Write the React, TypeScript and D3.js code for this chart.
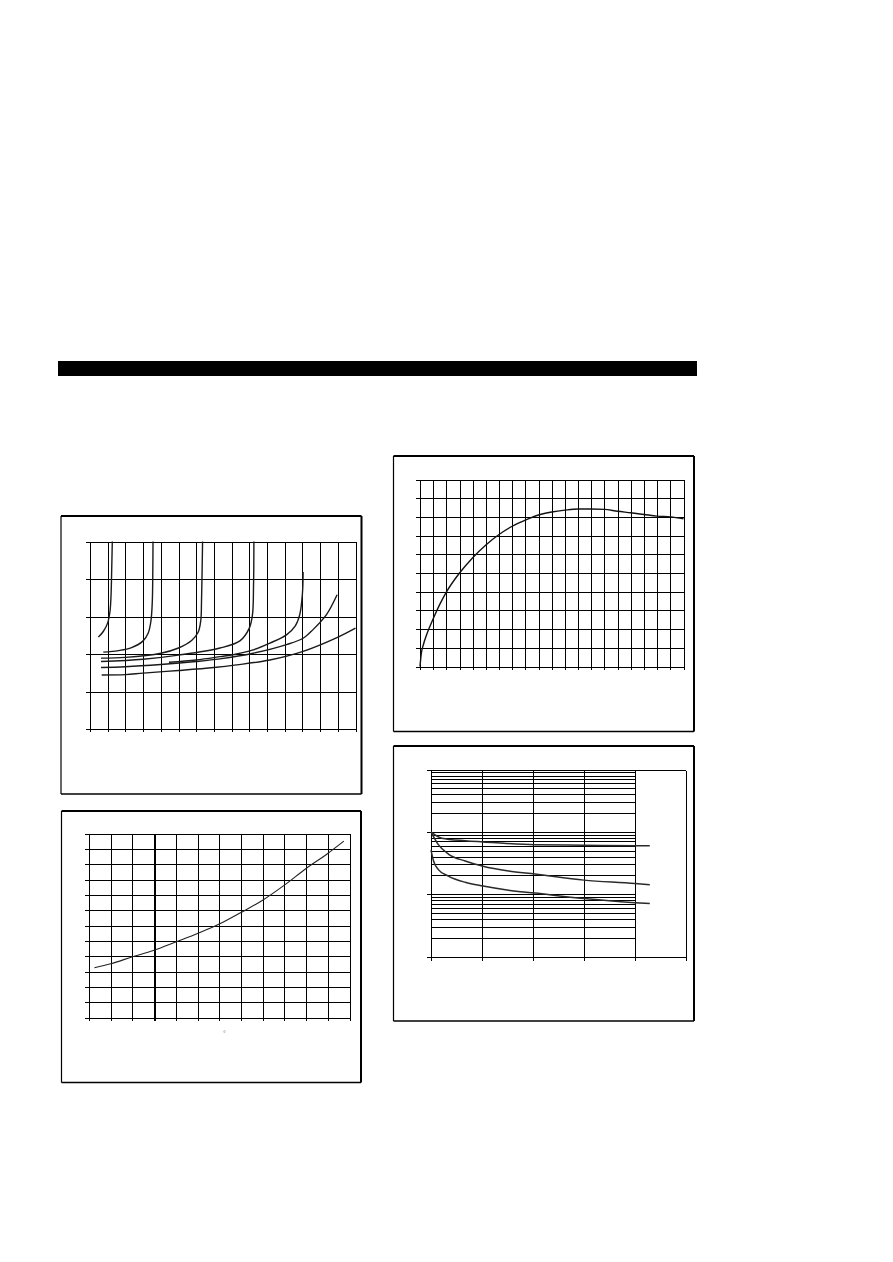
import React from "react";
import * as d3 from "d3";

// ---------- Panel 1 (top-left): family of curves ----------
const P1_X_GRID = d3.range(0, 16);
const P1_Y_GRID = [0, 1, 2, 3, 4, 5];
const P1_A_X = [0.47, 0.75, 1.0, 1.13, 1.19, 1.22, 1.26];
const P1_A_Y = [2.45, 2.6, 2.83, 3.14, 3.58, 4.12, 5.0];
const P1_B_X = [0.75, 1.6, 2.35, 3.0, 3.29, 3.44, 3.52, 3.55, 3.56];
const P1_B_Y = [2.05, 2.09, 2.17, 2.35, 2.56, 2.87, 3.4, 4.3, 5.0];
const P1_C_X = [0.62, 2.0, 4.0, 5.0, 5.74, 6.11, 6.26, 6.3, 6.36];
const P1_C_Y = [1.89, 1.91, 2.02, 2.16, 2.36, 2.58, 2.9, 3.4, 5.0];
const P1_D_X = [0.62, 3.0, 5.0, 7.34, 8.47, 9.0, 9.18, 9.24, 9.26];
const P1_D_Y = [1.8, 1.86, 1.97, 2.16, 2.35, 2.69, 3.05, 3.85, 5.0];
const P1_E_X = [4.46, 6.0, 7.34, 8.28, 9.22, 10.16, 11.1, 11.6, 11.85, 12.0, 12.04];
const P1_E_Y = [1.78, 1.84, 1.93, 2.0, 2.11, 2.29, 2.51, 2.75, 3.05, 3.6, 4.19];
const P1_F_X = [0.62, 2.0, 4.0, 6.0, 7.34, 9.22, 11.1, 12.04, 12.6, 13.36, 13.96];
const P1_F_Y = [1.64, 1.66, 1.72, 1.8, 1.87, 2.02, 2.25, 2.42, 2.65, 3.05, 3.58];
const P1_G_X = [0.66, 2.0, 3.0, 5.0, 7.0, 8.28, 10.16, 12.04, 13.92, 15.0];
const P1_G_Y = [1.44, 1.45, 1.49, 1.56, 1.64, 1.71, 1.84, 2.07, 2.43, 2.69];

// ---------- Panel 2 (top-right): rising then flattening curve ----------
const P2_X_GRID = d3.range(0, 21);
const P2_Y_GRID = d3.range(0, 11);
const P2_X = [0, 0.1, 0.25, 0.5, 1, 1.5, 2, 3, 4, 5, 6, 7, 8, 9, 10, 11, 12, 13, 14, 15, 16, 17, 18, 19, 20];
const P2_Y = [0, 0.7, 1.15, 1.7, 2.55, 3.32, 3.98, 5.0, 5.82, 6.5, 7.06, 7.5, 7.83, 8.1, 8.26, 8.36, 8.42, 8.42, 8.4, 8.3, 8.22, 8.13, 8.04, 8.0, 7.9];

// ---------- Panel 3 (bottom-left): exponential-like curve ----------
const P3_X_GRID = d3.range(0, 13);
const P3_Y_GRID = d3.range(0, 13);
const P3_X = [0.25, 1, 2, 3, 4, 5, 6, 7, 8, 9, 10, 11, 11.74];
const P3_Y = [3.24, 3.5, 3.96, 4.39, 4.93, 5.48, 6.09, 6.85, 7.65, 8.63, 9.72, 10.7, 11.5];
const P3_LABEL = "°";

// ---------- Panel 4 (bottom-right): log-scale decaying curves ----------
const P4_X_GRID = [0, 1, 2, 3, 4, 5];
const P4_DECADES = [1, 10, 100, 1000];
const P4_C1_X = [0, 0.21, 0.67, 1.02, 2.04, 3, 4, 4.29];
const P4_C1_Y = [100, 79, 72, 69, 62, 61, 60, 60];
const P4_C2_X = [0, 0.14, 0.34, 0.67, 1.02, 1.52, 2.04, 3, 4, 4.29];
const P4_C2_Y = [100, 63, 44, 34, 28, 23.5, 21, 16.8, 14.8, 14.1];
const P4_C3_X = [0, 0.05, 0.14, 0.34, 0.67, 1.02, 1.52, 2.04, 3, 4, 4.29];
const P4_C3_Y = [51, 34, 25, 19.5, 15.5, 13.5, 11.6, 10.4, 8.5, 7.3, 7.1];

const px = (v: number) => Math.round(v) + 0.5;

function zip(xs: number[], ys: number[]): [number, number][] {
  return xs.map((x, i) => [x, ys[i]]);
}

function Frame({ x, y, w, h }: { x: number; y: number; w: number; h: number }) {
  return (
    <g>
      <line x1={x} y1={y} x2={x + w} y2={y} stroke="#000" strokeWidth={2} />
      <line x1={x} y1={y} x2={x} y2={y + h} stroke="#000" strokeWidth={1.2} />
      <line x1={x + w} y1={y} x2={x + w} y2={y + h} stroke="#000" strokeWidth={2} />
      <line x1={x} y1={y + h} x2={x + w} y2={y + h} stroke="#000" strokeWidth={1.6} />
    </g>
  );
}

function LinearGrid({
  xs,
  ys,
  xTicks,
  yTicks,
  thickX,
}: {
  xs: d3.ScaleLinear<number, number>;
  ys: d3.ScaleLinear<number, number>;
  xTicks: number[];
  yTicks: number[];
  thickX?: number;
}) {
  const [x0, x1] = xs.range();
  const [y0, y1] = ys.range();
  return (
    <g shapeRendering="crispEdges">
      {xTicks.map((t) => (
        <line
          key={"x" + t}
          x1={px(xs(t))}
          x2={px(xs(t))}
          y1={y1}
          y2={y0 + 3}
          stroke="#000"
          strokeWidth={t === thickX ? 2 : 1}
        />
      ))}
      {yTicks.map((t) => (
        <line key={"y" + t} x1={x0 - 4} x2={x1} y1={px(ys(t))} y2={px(ys(t))} stroke="#000" strokeWidth={1} />
      ))}
    </g>
  );
}

export default function App() {
  // Panel 1 scales
  const p1x = d3.scaleLinear().domain([0, 15]).range([90, 355.5]);
  const p1y = d3.scaleLinear().domain([0, 5]).range([729, 541.5]);
  const p1line = d3
    .line<[number, number]>()
    .x((d) => p1x(d[0]))
    .y((d) => p1y(d[1]))
    .curve(d3.curveCatmullRom.alpha(0.5));
  const p1curves = [
    zip(P1_A_X, P1_A_Y),
    zip(P1_B_X, P1_B_Y),
    zip(P1_C_X, P1_C_Y),
    zip(P1_D_X, P1_D_Y),
    zip(P1_E_X, P1_E_Y),
    zip(P1_F_X, P1_F_Y),
    zip(P1_G_X, P1_G_Y),
  ];

  // Panel 2 scales
  const p2x = d3.scaleLinear().domain([0, 20]).range([420, 683.5]);
  const p2y = d3.scaleLinear().domain([0, 10]).range([666.5, 479.5]);
  const p2line = d3
    .line<[number, number]>()
    .x((d) => p2x(d[0]))
    .y((d) => p2y(d[1]))
    .curve(d3.curveMonotoneX);

  // Panel 3 scales
  const p3x = d3.scaleLinear().domain([0, 12]).range([89, 349.5]);
  const p3y = d3.scaleLinear().domain([0, 12]).range([1017.5, 833.5]);
  const p3line = d3
    .line<[number, number]>()
    .x((d) => p3x(d[0]))
    .y((d) => p3y(d[1]))
    .curve(d3.curveMonotoneX);

  // Panel 4 scales
  const p4x = d3.scaleLinear().domain([0, 5]).range([431, 686]);
  const p4y = d3.scaleLog().domain([1, 1000]).range([956.5, 769.5]);
  const p4line = d3
    .line<[number, number]>()
    .x((d) => p4x(d[0]))
    .y((d) => p4y(d[1]))
    .curve(d3.curveMonotoneX);
  const p4minor: number[] = [];
  [1, 10, 100].forEach((dec) => {
    for (let k = 2; k <= 9; k++) p4minor.push(dec * k);
  });

  return (
    <svg
      width={893}
      height={1262}
      style={{ position: "absolute", left: 0, top: 0, background: "#fff" }}
      fontFamily="Liberation Sans, Arial, sans-serif"
    >
      <rect x={0} y={0} width={893} height={1262} fill="#fff" />
      {/* header bar */}
      <rect x={58} y={361} width={639} height={15} fill="#000" />

      {/* Panel 1 */}
      <Frame x={61} y={516} w={300.5} h={278} />
      <LinearGrid xs={p1x} ys={p1y} xTicks={P1_X_GRID} yTicks={P1_Y_GRID} />
      <g fill="none" stroke="#1a1a1a" strokeWidth={1.4}>
        {p1curves.map((c, i) => (
          <path key={i} d={p1line(c) || ""} />
        ))}
      </g>

      {/* Panel 2 */}
      <Frame x={393.5} y={456} w={300.5} h={275.5} />
      <LinearGrid xs={p2x} ys={p2y} xTicks={P2_X_GRID} yTicks={P2_Y_GRID} />
      <path d={p2line(zip(P2_X, P2_Y)) || ""} fill="none" stroke="#111" strokeWidth={1.4} />

      {/* Panel 3 */}
      <Frame x={61.5} y={811} w={299.5} h={271.5} />
      <LinearGrid xs={p3x} ys={p3y} xTicks={P3_X_GRID} yTicks={P3_Y_GRID} thickX={3} />
      <path d={p3line(zip(P3_X, P3_Y)) || ""} fill="none" stroke="#222" strokeWidth={1.1} />
      <text x={224.5} y={1036} fontSize={7} fill="#777" textAnchor="middle">
        {P3_LABEL}
      </text>

      {/* Panel 4 */}
      <Frame x={393.5} y={746} w={300.5} h={275} />
      <g shapeRendering="crispEdges" stroke="#000" strokeWidth={1}>
        {p4minor.map((v) => (
          <line key={"m" + v} x1={p4x(0)} x2={px(p4x(4))} y1={px(p4y(v))} y2={px(p4y(v))} />
        ))}
        {P4_DECADES.map((v) => (
          <line
            key={"d" + v}
            x1={p4x(0) - 4}
            x2={v === 1 || v === 1000 ? p4x(5) : px(p4x(4))}
            y1={px(p4y(v))}
            y2={px(p4y(v))}
          />
        ))}
        {P4_X_GRID.map((t) => (
          <line key={"x" + t} x1={px(p4x(t))} x2={px(p4x(t))} y1={px(p4y(1000))} y2={px(p4y(1)) + 3} />
        ))}
      </g>
      <g fill="none" stroke="#2a2a2a" strokeWidth={1.5}>
        <path d={p4line(zip(P4_C1_X, P4_C1_Y)) || ""} />
        <path d={p4line(zip(P4_C2_X, P4_C2_Y)) || ""} />
        <path d={p4line(zip(P4_C3_X, P4_C3_Y)) || ""} />
      </g>
    </svg>
  );
}
